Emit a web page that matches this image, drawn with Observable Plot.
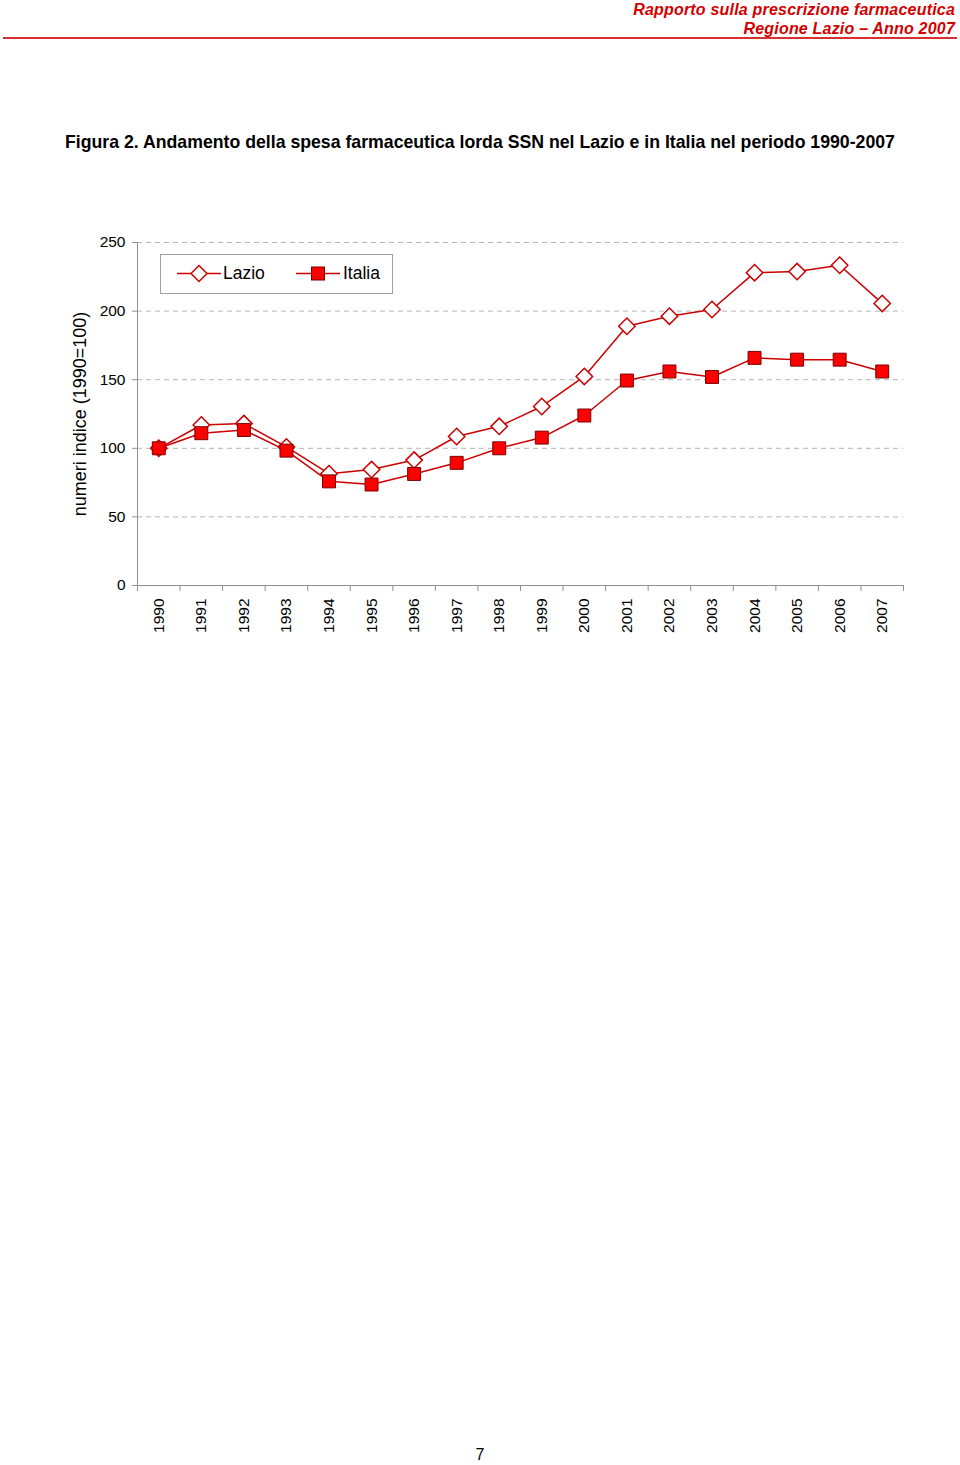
<!DOCTYPE html>
<html><head><meta charset="utf-8">
<script src="https://cdn.jsdelivr.net/npm/d3@7"></script>
<script src="https://cdn.jsdelivr.net/npm/@observablehq/plot@0.6"></script>
<style>
body{margin:0;width:960px;height:1465px;position:relative;background:#fff;font-family:"Liberation Sans",Arial,sans-serif;color:#000;overflow:hidden}
.hdr{position:absolute;right:5px;font-weight:bold;font-style:italic;color:#d40000;font-size:16px;letter-spacing:0.2px;line-height:19px;text-align:right;white-space:nowrap}
#rule{position:absolute;left:3px;top:37px;width:954px;height:1.5px;background:#d83030}
#title{position:absolute;left:65px;top:132px;font-weight:bold;font-size:17.7px;line-height:20px;white-space:nowrap}
#chart{position:absolute;left:0;top:200px}
#legend{position:absolute;left:160px;top:254px;width:231px;height:38px;border:1px solid #a0a0a0;background:#fff}
#legend svg{position:absolute;top:8px}
#legend span{position:absolute;top:8px;line-height:20px;font-size:17.5px}
#page{position:absolute;left:0;top:1445px;width:960px;text-align:center;font-size:16px;line-height:20px}
</style></head>
<body>
<div class="hdr" style="top:0">Rapporto sulla prescrizione farmaceutica</div>
<div class="hdr" style="top:19px">Regione Lazio – Anno 2007</div>
<div id="rule"></div>
<div id="title">Figura 2. Andamento della spesa farmaceutica lorda SSN nel Lazio e in Italia nel periodo 1990-2007</div>
<div id="chart"></div>
<div id="legend">
  <svg style="left:16px" width="44" height="20"><line x1="0" x2="44" y1="10.5" y2="10.5" stroke="#cc0000" stroke-width="1.5"/><path d="M22,2.5L30,10.5L22,18.5L14,10.5Z" fill="#fff" stroke="#cc0000" stroke-width="1.5"/></svg>
  <span style="left:62px">Lazio</span>
  <svg style="left:135px" width="44" height="20"><line x1="0" x2="44" y1="10.5" y2="10.5" stroke="#cc0000" stroke-width="1.5"/><rect x="15.5" y="4" width="13" height="13" fill="#ff0000" stroke="#7a0000" stroke-width="1"/></svg>
  <span style="left:182px">Italia</span>
</div>
<div id="page">7</div>
<script>
const years = ["1990","1991","1992","1993","1994","1995","1996","1997","1998","1999","2000","2001","2002","2003","2004","2005","2006","2007"];
const lazio = [100,117,118,101,81.5,84.5,91.4,108.6,116,130.5,152.4,189,196.3,201.2,228,228.8,233.4,205.6];
const italia = [100,111,113.3,98.3,75.9,73.6,81.3,89.4,100,107.8,123.9,149.4,156,152,165.9,164.6,164.6,156];
const yTicks = [0,50,100,150,200,250];
const yTitle = "numeri indice (1990=100)";

const W = 960, H = 460, mL = 137, mR = 57, mT = 42, mB = 75;
const step = (W - mL - mR) / years.length;
const rows = years.map((y, i) => ({year: y, lazio: lazio[i], italia: italia[i]}));
const axisGray = "#909090";

const chart = Plot.plot({
  width: W, height: H,
  marginLeft: mL, marginRight: mR, marginTop: mT, marginBottom: mB,
  style: {fontFamily: "'Liberation Sans', Arial, sans-serif", fontSize: "15.5px", color: "#000", background: "transparent", overflow: "visible"},
  x: {type: "point", domain: years, padding: 0.5, round: false},
  y: {domain: [0, 250]},
  marks: [
    Plot.ruleY(yTicks.filter(d => d > 0), {stroke: "#b4b4b4", strokeDasharray: "5,4"}),
    Plot.ruleY([0], {stroke: axisGray}),
    Plot.ruleX([years[0]], {y1: 0, y2: 250, dx: -step / 2, stroke: axisGray}),
    Plot.ruleX(years, {y1: 0, y2: 0, insetTop: 6, dx: -step / 2, stroke: axisGray}),
    Plot.ruleX([years[years.length - 1]], {y1: 0, y2: 0, insetTop: 6, dx: step / 2, stroke: axisGray}),
    Plot.axisY({ticks: yTicks, tickSize: 5, tickPadding: 7, label: null, stroke: axisGray}),
    Plot.axisX({tickRotate: -90, tickSize: 0, tickPadding: 13, label: null}),
    Plot.text([yTitle], {text: d => d, frameAnchor: "left", textAnchor: "middle", rotate: -90, dx: -57, fontSize: 18}),
    Plot.line(rows, {x: "year", y: "lazio", stroke: "#cc0000", strokeWidth: 1.5}),
    Plot.dot(rows, {x: "year", y: "lazio", symbol: "diamond2", r: 7.4, fill: "white", stroke: "#cc0000", strokeWidth: 1.5}),
    Plot.line(rows, {x: "year", y: "italia", stroke: "#cc0000", strokeWidth: 1.5}),
    Plot.dot(rows, {x: "year", y: "italia", symbol: "square", r: 7.3, fill: "#ff0000", stroke: "#7a0000", strokeWidth: 1})
  ]
});
document.getElementById("chart").appendChild(chart);
</script>
</body></html>
